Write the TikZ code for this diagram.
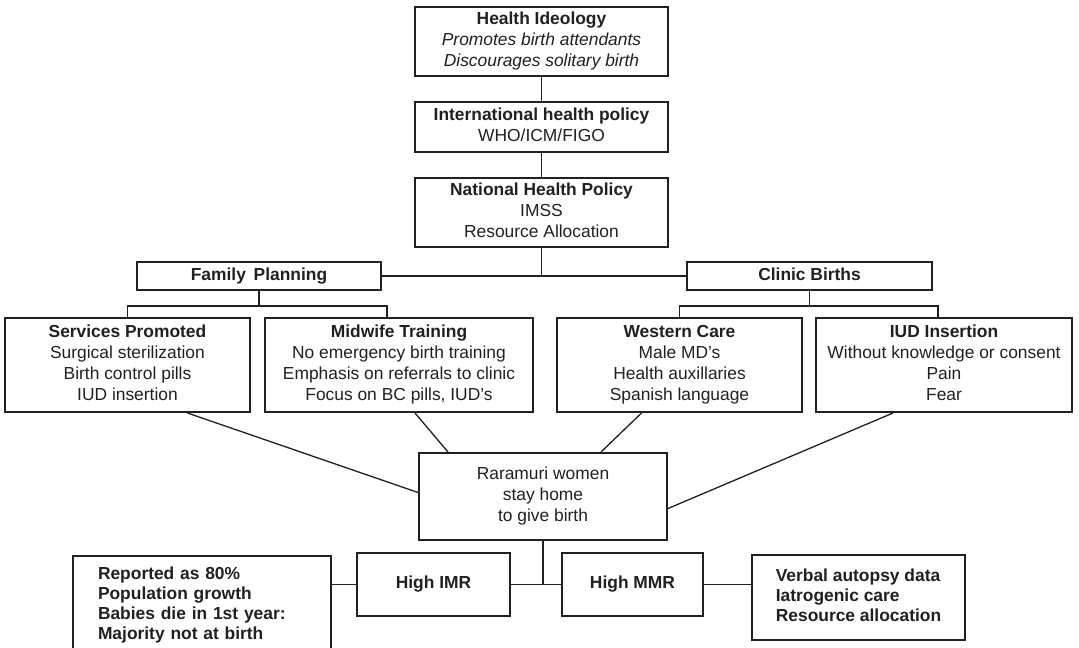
\documentclass[tikz,border=0pt]{standalone}
\usepackage{fontspec}
\setmainfont{Liberation Sans}
\usetikzlibrary{calc,positioning}
\definecolor{Ink}{HTML}{231F20}

\begin{document}
\begin{tikzpicture}[x=0.5pt,y=-0.5pt,
          box/.style={draw=Ink,text=Ink,line width=1pt,inner sep=0pt,align=center,
            font=\fontsize{8.7}{10.5}\selectfont},
          note/.style={box,font=\fontsize{8.7}{10}\selectfont\bfseries},
          link/.style={draw=Ink,line width=0.65pt}]
        \useasboundingbox (0,0) rectangle (1079,647);
        \node[box,minimum width=126.5pt,minimum height=34.5pt] (ideo) at (541.5,41.5)
          {\textbf{Health Ideology}\strut\\\textit{Promotes birth attendants}\\\textit{Discourages solitary birth}\strut};
        \node[box,minimum width=126.5pt,minimum height=25pt] (intl) at (541.5,127)
          {\textbf{International health policy}\strut\\WHO/ICM/FIGO\strut};
        \node[box,minimum width=126.5pt,minimum height=34.5pt] (nat) at (541.5,212.5)
          {\textbf{National Health Policy}\strut\\IMSS\\Resource Allocation\strut};
        \node[box,minimum width=122pt,minimum height=14pt] (fp) at (259,276) {\textbf{Family\ \,Planning}\strut};
        \node[box,minimum width=122.5pt,minimum height=14pt] (cb) at (809.5,276) {\textbf{Clinic Births}\strut};
        \node[box,minimum width=122.5pt,minimum height=47pt] (serv) at (127.5,365)
          {\textbf{Services Promoted}\strut\\Surgical sterilization\\Birth control pills\\IUD insertion\strut};
        \node[box,minimum width=134pt,minimum height=47pt] (mid) at (399,365)
          {\textbf{Midwife Training}\strut\\No emergency birth training\\Emphasis on referrals to clinic\\Focus on BC pills, IUD's\strut};
        \node[box,minimum width=122.5pt,minimum height=47pt] (west) at (679.5,365)
          {\textbf{Western Care}\strut\\Male MD's\\Health auxillaries\\Spanish language\strut};
        \node[box,minimum width=128pt,minimum height=47pt] (iud) at (944,365)
          {\textbf{IUD Insertion}\strut\\Without knowledge or consent\\Pain\\Fear\strut};
        \node[box,minimum width=124pt,minimum height=43.5pt] (rar) at (543,496.5)
          {Raramuri women\strut\\stay home\\to give birth\strut};
        \node[note,anchor=north west,align=left,text width=104pt,inner xsep=12.5pt,inner ysep=5.5pt] (rep) at (72,555)
          {Reported as 80\%\\Population growth\\Babies die in 1st year:\\Majority not at birth};
        \node[note,minimum width=76.5pt,minimum height=31.5pt] (imr) at (433.5,584.5) {High IMR};
        \node[note,minimum width=70.5pt,minimum height=31.5pt] (mmr) at (632.5,584.5) {High MMR};
        \node[note,align=left,minimum width=106.5pt,minimum height=42.5pt] (verb) at (858.5,597.5)
          {Verbal autopsy data\strut\\Iatrogenic care\\Resource allocation\strut};
        \coordinate (fpbar) at ($(fp.south)+(0,15)$);
        \coordinate (cbbar) at ($(cb.south)+(0,15)$);
        \draw[link] (ideo)--(intl);
        \draw[link] (intl)--(nat);
        \draw[link] (nat.south)--(nat.south |- fp.east);
        \draw[link] (fp.east)--(cb.west);
        \draw[link] (fp.south)--(fpbar);
        \draw[link] (serv.north) |- (fpbar) -| ([xshift=-6pt]mid.north);
        \draw[link] (cb.south)--(cbbar);
        \draw[link] (west.north) |- (cbbar) -| ([xshift=-3pt]iud.north);
        \draw[link] ([xshift=30pt]serv.south)--([yshift=2pt]rar.west);
        \draw[link] ([xshift=8pt]mid.south)--([xshift=-47.5pt]rar.north);
        \draw[link] ([xshift=-19pt]west.south)--([xshift=29pt]rar.north);
        \draw[link] ([xshift=-25.5pt]iud.south)--([yshift=-6pt]rar.east);
        \draw[link] (imr.west)--(imr.west -| rep.east);
        \draw[link] (imr)--(mmr);
        \draw[link] (mmr)--(verb.west |- mmr.east);
        \draw[link] (rar.south)--(rar.south |- imr.east);
      \end{tikzpicture}
\end{document}
